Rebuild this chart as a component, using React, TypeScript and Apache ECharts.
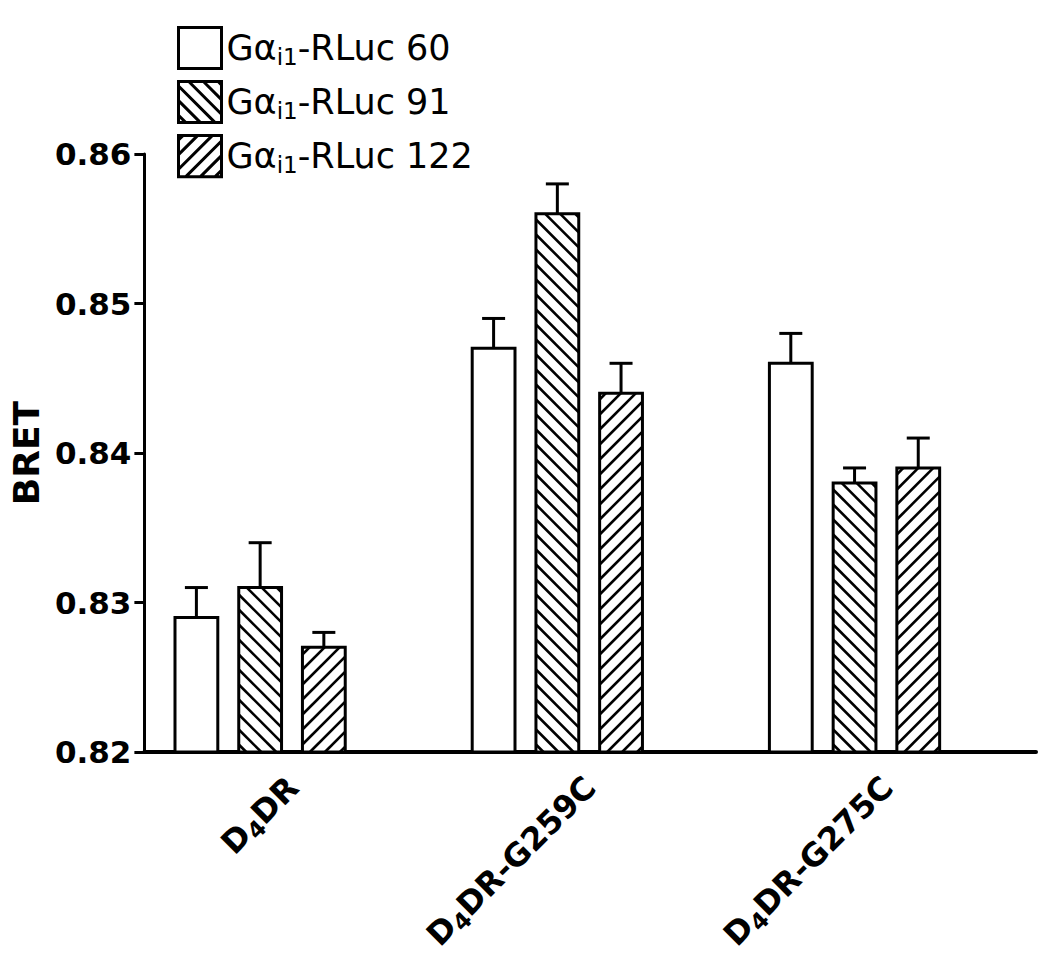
import React, { useEffect, useRef } from "react";
import * as echarts from "echarts";

const categories = ["D4DR", "D4DR-G259C", "D4DR-G275C"];
const seriesNames = ["Gαi1-RLuc 60", "Gαi1-RLuc 91", "Gαi1-RLuc 122"];
const rluc60 = [0.829, 0.847, 0.846];
const rluc60Err = [0.002, 0.002, 0.002];
const rluc91 = [0.831, 0.856, 0.838];
const rluc91Err = [0.003, 0.002, 0.001];
const rluc122 = [0.827, 0.844, 0.839];
const rluc122Err = [0.001, 0.002, 0.002];
const yMin = 0.82;
const yMax = 0.86;
const yInterval = 0.01;

const FONT = "DejaVu Sans";
// 0 = plain, 1 = "\\\" hatch, -1 = "///" hatch
const patterns = [0, 1, -1];
const barOffsets = [-0.325, -0.1105, 0.1038];
const barWidthFrac = 0.144;
const HATCH_STEP = 15;

function hatchSegments(x0: number, y0: number, x1: number, y1: number, dir: number, step: number) {
  const segs: number[][] = [];
  if (dir === 1) {
    const cMax = y1 - x0;
    const cMin = y0 - x1;
    for (let c = cMax - step / 2; c > cMin; c -= step) {
      const xa = Math.max(x0, y0 - c);
      const xb = Math.min(x1, y1 - c);
      if (xb > xa) segs.push([xa, xa + c, xb, xb + c]);
    }
  } else if (dir === -1) {
    const cMin = y0 + x0;
    const cMax = y1 + x1;
    const c0 = y1 + x0;
    const kStart = Math.floor((cMin - c0) / step) - 1;
    const kEnd = Math.ceil((cMax - c0) / step) + 1;
    for (let k = kStart; k <= kEnd; k++) {
      const c = c0 + step / 2 + k * step;
      if (c <= cMin || c >= cMax) continue;
      const xa = Math.max(x0, c - y1);
      const xb = Math.min(x1, c - y0);
      if (xb > xa) segs.push([xa, c - xa, xb, c - xb]);
    }
  }
  return segs;
}

function iconPath(dir: number) {
  const w = 44;
  const h = 42;
  let d = `path://M0 0L${w} 0L${w} ${h}L0 ${h}Z`;
  for (const s of hatchSegments(0, 0, w, h, dir, HATCH_STEP)) {
    d += `M${s[0].toFixed(2)} ${s[1].toFixed(2)}L${s[2].toFixed(2)} ${s[3].toFixed(2)}`;
  }
  return d;
}

function makeRenderItem(seriesIndex: number) {
  return (params: any, api: any) => {
    const cat = api.value(0);
    const v = api.value(1);
    const e = api.value(2);
    const band = api.size([1, 0])[0];
    const base = api.coord([cat, yMin]);
    const top = api.coord([cat, v]);
    const errTop = api.coord([cat, v + e]);
    const cx = base[0] + barOffsets[seriesIndex] * band;
    const w = barWidthFrac * band;
    const x0 = cx - w / 2;
    const x1 = cx + w / 2;
    const y0 = top[1];
    const y1 = base[1];
    const children: any[] = [
      { type: "rect", shape: { x: x0, y: y0, width: w, height: y1 - y0 }, style: { fill: "#fff", stroke: "none" } },
    ];
    const dir = patterns[seriesIndex];
    if (dir !== 0) {
      for (const s of hatchSegments(x0, y0, x1, y1, dir, HATCH_STEP)) {
        children.push({
          type: "line",
          shape: { x1: s[0], y1: s[1], x2: s[2], y2: s[3] },
          style: { stroke: "#000", lineWidth: 2.6 },
        });
      }
    }
    children.push({
      type: "rect",
      shape: { x: x0, y: y0, width: w, height: y1 - y0 },
      style: { fill: "none", stroke: "#000", lineWidth: 3 },
    });
    children.push({
      type: "line",
      shape: { x1: cx, y1: y0, x2: cx, y2: errTop[1] },
      style: { stroke: "#000", lineWidth: 3 },
    });
    children.push({
      type: "line",
      shape: { x1: cx - 11.5, y1: errTop[1], x2: cx + 11.5, y2: errTop[1] },
      style: { stroke: "#000", lineWidth: 3 },
    });
    return { type: "group", children };
  };
}

export default function App() {
  const ref = useRef<HTMLDivElement>(null);
  useEffect(() => {
    document.body.style.margin = "0";
    const chart = echarts.init(ref.current!, null, { renderer: "svg" });
    const values = [rluc60, rluc91, rluc122];
    const errs = [rluc60Err, rluc91Err, rluc122Err];
    const series = seriesNames.map((name, si) => ({
      type: "custom",
      name,
      renderItem: makeRenderItem(si),
      encode: { x: 0, y: 1 },
      data: categories.map((_, ci) => [ci, values[si][ci], errs[si][ci]]),
      z: 3,
    }));
    chart.setOption({
      animation: false,
      backgroundColor: "#fff",
      grid: { left: 140, right: 14, top: 154, bottom: 219 },
      legend: {
        orient: "vertical",
        left: 172,
        top: 21,
        itemWidth: 43,
        itemHeight: 42,
        itemGap: 10,
        selectedMode: false,
        data: seriesNames.map((name, i) => ({
          name,
          icon: iconPath(patterns[i]),
          itemStyle: { color: "#fff", borderColor: "#000", borderWidth: 3 },
        })),
        formatter: (n: string) => `{a|Gα}{s|i1}{a|${n.slice(4)}}`,
        textStyle: {
          rich: {
            a: { fontFamily: FONT, fontSize: 35, color: "#000", lineHeight: 43 },
            s: { fontFamily: FONT, fontSize: 23, color: "#000", padding: [17, 0, 0, 0] },
          },
        },
      },
      xAxis: {
        type: "category",
        data: categories,
        boundaryGap: true,
        axisLine: { lineStyle: { color: "#000", width: 4 } },
        axisTick: { show: false },
        axisLabel: {
          rotate: 45,
          margin: 30,
          interval: 0,
          formatter: (v: string) => `{b|D}{s|4}{b|${v.slice(2)}}`,
          rich: {
            b: { fontFamily: FONT, fontWeight: "bold", fontSize: 32, color: "#000", lineHeight: 40 },
            s: { fontFamily: FONT, fontWeight: "bold", fontSize: 23, color: "#000", padding: [16, 0, 0, 0] },
          },
        },
      },
      yAxis: {
        type: "value",
        min: yMin,
        max: yMax,
        interval: yInterval,
        name: "BRET",
        nameLocation: "middle",
        nameGap: 93,
        nameTextStyle: { fontFamily: FONT, fontWeight: "bold", fontSize: 36, color: "#000" },
        axisLine: { show: true, lineStyle: { color: "#000", width: 3 } },
        axisTick: { show: true, length: 10, lineStyle: { color: "#000", width: 3 } },
        splitLine: { show: false },
        axisLabel: {
          margin: 13,
          fontFamily: FONT,
          fontWeight: "bold",
          fontSize: 31,
          color: "#000",
          formatter: (v: number) => v.toFixed(2),
        },
      },
      series,
    });
    return () => chart.dispose();
  }, []);
  return (
    <div
      ref={ref}
      style={{ position: "fixed", left: 0, top: 0, width: 1050, height: 971, background: "#fff" }}
    />
  );
}
